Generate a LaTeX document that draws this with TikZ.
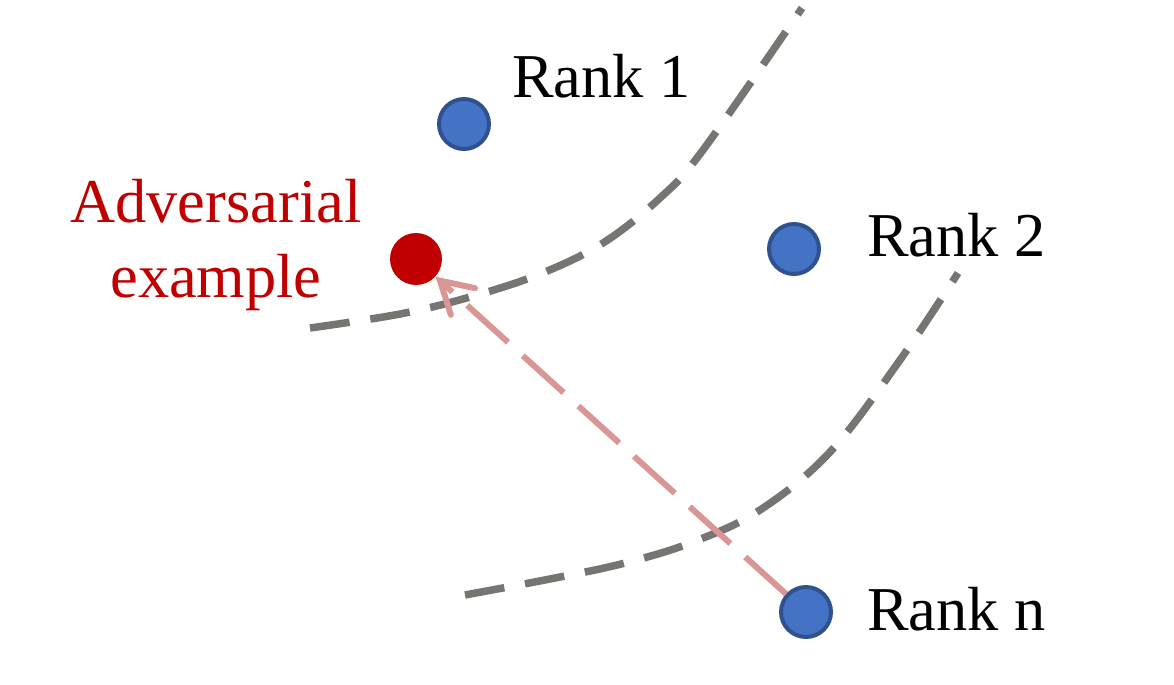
\documentclass[tikz,border=0pt]{standalone}
\usepackage{fontspec}
\setmainfont{Liberation Serif}
\usetikzlibrary{arrows.meta}
\definecolor{rankblue}{RGB}{68,114,196}
\definecolor{rankedge}{RGB}{47,82,143}
\definecolor{advred}{RGB}{192,0,0}
\definecolor{boundgray}{RGB}{118,117,113}
\definecolor{arrowpink}{RGB}{217,150,148}
\tikzset{
  rankdot/.style={circle, fill=rankblue, draw=rankedge, line width=0.08cm, minimum size=1.0cm, inner sep=0pt},
  advdot/.style={circle, fill=advred, minimum size=1.04cm, inner sep=0pt},
  ranklabel/.style={anchor=base west, inner sep=0pt, font=\fontsize{35.5}{42.5}\selectfont},
  boundary/.style={draw=boundgray, line width=0.15cm, dash pattern=on 0.8cm off 0.42cm},
  advarrow/.style={draw=arrowpink, line width=0.12cm, dash pattern=on 1.1cm off 0.4cm,
    -{Straight Barb[length=0.62cm, width=0.72cm, line cap=round]}}
}
\begin{document}
\begin{tikzpicture}[x=0.02cm, y=-0.02cm]
\useasboundingbox (0,0) rectangle (1174,684);

% decision boundaries
\draw[boundary] plot[smooth, tension=0.6] coordinates {(310,328) (400,314) (470,297) (540,274) (603,243) (660,198) (703,150) (802,8)};
\draw[boundary] plot[smooth, tension=0.6] coordinates {(465,595) (555,578) (625,563) (693,542) (760,510) (830,452) (900,360) (958,273)};

% points
\node[rankdot] (rank1) at (464,124) {};
\node[rankdot] (rank2) at (794,249) {};
\node[rankdot] (rankn) at (806,612) {};
\node[advdot] (adv) at (416,259) {};

% labels
\node[ranklabel] (lab1) at (512,97) {Rank 1};
\node[ranklabel] (lab2) at (867,256) {Rank 2};
\node[ranklabel] (labn) at (867,630) {Rank n};
\node[anchor=base, inner sep=0pt, align=center, text=advred, font=\fontsize{35.5}{42.5}\selectfont] (labadv) at (216,297) {Adversarial\\example};

% attack direction
\draw[advarrow] (rankn) -- (adv);
\end{tikzpicture}
\end{document}
